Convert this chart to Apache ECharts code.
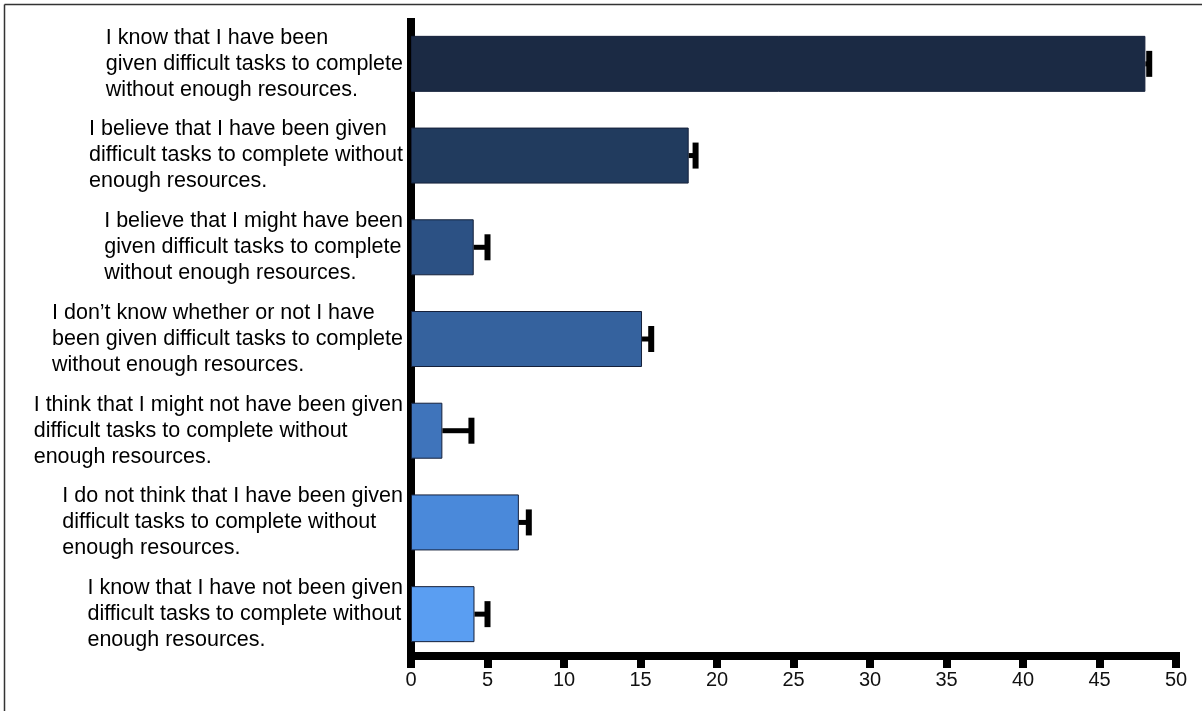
<!DOCTYPE html>
<html>
<head>
<meta charset="utf-8">
<script src="https://cdn.jsdelivr.net/npm/echarts@6/dist/echarts.min.js"></script>
<style>
  html, body { margin: 0; padding: 0; background: #fff; }
  #chart { width: 1202px; height: 711px; }
</style>
</head>
<body>
<div id="chart"></div>
<script>
// Survey responses: mean share with upper error bound
const categories = [
  'I know that I have been\ngiven difficult tasks to complete\nwithout enough resources.',
  'I believe that I have been given\ndifficult tasks to complete without\nenough resources.',
  'I believe that I might have been\ngiven difficult tasks to complete\nwithout enough resources.',
  'I don\u2019t know whether or not I have\nbeen given difficult tasks to complete\nwithout enough resources.',
  'I think that I might not have been given\ndifficult tasks to complete without\nenough resources.',
  'I do not think that I have been given\ndifficult tasks to complete without\nenough resources.',
  'I know that I have not been given\ndifficult tasks to complete without\nenough resources.'
];
const values = [48.0, 18.15, 4.1, 15.1, 2.05, 7.05, 4.15];
const errorHigh = [48.25, 18.6, 5.0, 15.7, 3.95, 7.7, 5.0];
const barColors = ['#1b2a44', '#213b5e', '#2c5184', '#35629e', '#3f74bb', '#4a89da', '#5a9ef2'];
const xTicks = [0, 5, 10, 15, 20, 25, 30, 35, 40, 45, 50];

const chart = echarts.init(document.getElementById('chart'), null, { renderer: 'canvas' });

const font = '"Liberation Sans", Arial, Helvetica, sans-serif';

chart.setOption({
  animation: false,
  backgroundColor: '#ffffff',
  grid: { left: 411, right: 26, top: 18, bottom: 51, containLabel: false },
  xAxis: {
    type: 'value',
    min: xTicks[0],
    max: xTicks[xTicks.length - 1],
    interval: 5,
    offset: -4,
    axisLine: { show: true, lineStyle: { color: '#000', width: 8, cap: 'square' } },
    axisTick: { show: true, length: 12, lineStyle: { color: '#000', width: 8 } },
    axisLabel: { color: '#111', fontFamily: font, fontSize: 20, margin: 14 },
    splitLine: { show: false }
  },
  yAxis: {
    type: 'category',
    inverse: true,
    data: categories,
    axisLine: { show: true, onZero: false, lineStyle: { color: '#000', width: 8, cap: 'butt' } },
    axisTick: { show: false },
    axisLabel: {
      margin: 8,
      align: 'right',
      formatter: v => '{t|' + v + '}',
      rich: {
        t: { color: '#000', fontFamily: font, fontSize: 21.5, lineHeight: 26, align: 'left' }
      }
    }
  },
  series: [
    {
      type: 'bar',
      barWidth: 56,
      z: 1,
      data: values.map((v, i) => ({
        value: v,
        itemStyle: { color: barColors[i], borderColor: '#15203a', borderWidth: 1 }
      }))
    },
    {
      type: 'custom',
      z: 3,
      data: values.map((v, i) => [i, v, errorHigh[i]]),
      encode: { x: [1, 2], y: 0 },
      renderItem: (params, api) => {
        const y = api.value(0);
        const start = api.coord([api.value(1), y]);
        const end = api.coord([api.value(2), y]);
        const half = 13;
        return {
          type: 'group',
          children: [
            {
              type: 'line',
              shape: { x1: start[0], y1: start[1], x2: end[0], y2: end[1] },
              style: { stroke: '#000', lineWidth: 5 }
            },
            {
              type: 'line',
              shape: { x1: end[0], y1: end[1] - half, x2: end[0], y2: end[1] + half },
              style: { stroke: '#000', lineWidth: 6 }
            }
          ]
        };
      }
    }
  ],
  graphic: [
    { type: 'line', shape: { x1: 4.5, y1: 4.5, x2: 4.5, y2: 711 }, style: { stroke: '#333', lineWidth: 1.5 } },
    { type: 'line', shape: { x1: 4.5, y1: 4.5, x2: 1202, y2: 4.5 }, style: { stroke: '#333', lineWidth: 1.5 } }
  ]
});
</script>
</body>
</html>
